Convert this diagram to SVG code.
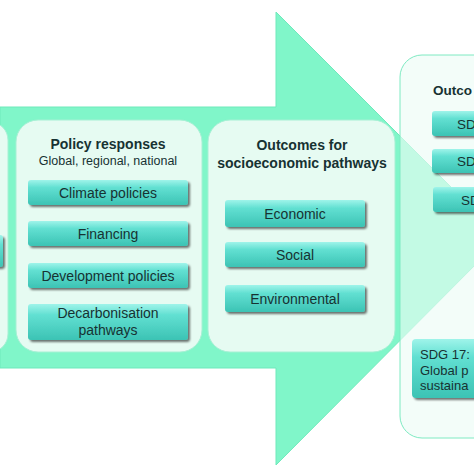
<svg xmlns="http://www.w3.org/2000/svg" width="474" height="474" viewBox="0 0 474 474">
<defs>
<linearGradient id="bx" x1="0" y1="0" x2="0" y2="1">
<stop offset="0" stop-color="#9ff4ea"/>
<stop offset="0.3" stop-color="#62e0d2"/>
<stop offset="1" stop-color="#3cc3b4"/>
</linearGradient>
<filter id="sh" x="-10%" y="-20%" width="125%" height="150%">
<feGaussianBlur in="SourceAlpha" stdDeviation="1.2"/>
<feOffset dx="1.5" dy="2" result="b"/>
<feComponentTransfer><feFuncA type="linear" slope="0.55"/></feComponentTransfer>
<feMerge><feMergeNode/><feMergeNode in="SourceGraphic"/></feMerge>
</filter>
</defs>
<style>
.panel{fill:#e6fbf2;stroke:#a6f0d4;stroke-width:1}
.rpanel{fill:#ecfcf5;fill-opacity:0.62;stroke:#7eeac2;stroke-width:1}
.box{fill:url(#bx);filter:url(#sh)}
.t{font-family:"Liberation Sans",Arial,sans-serif;fill:#173232}
.h{font-weight:bold;font-size:14px;text-anchor:middle}
.s{font-size:12.5px;text-anchor:middle}
.b{font-size:14px;text-anchor:middle}
.l{font-size:13.5px}
.m{font-size:13px}
</style>
<rect width="474" height="474" fill="#ffffff"/>
<g id="connectors">
<polygon id="arrow" points="0,107 276,107 276,12 502,238 276,465 276,368 0,368" fill="#80f6c9" stroke="#6ee9bb" stroke-width="1"/>
</g>
<g id="node-left">
<rect class="panel" x="-30" y="122" width="38" height="230" rx="18"/>
<rect class="box" x="-40" y="235" width="43" height="32" rx="3"/>
</g>
<g id="node-policy">
<rect class="panel" x="16" y="120" width="186" height="232" rx="22"/>
<text class="t h" x="108" y="149">Policy responses</text>
<text class="t s" x="108" y="165">Global, regional, national</text>
<rect class="box" x="28" y="180" width="160" height="25" rx="3"/>
<text class="t b" x="108" y="197.5">Climate policies</text>
<rect class="box" x="28" y="221" width="160" height="25" rx="3"/>
<text class="t b" x="108" y="238.5">Financing</text>
<rect class="box" x="28" y="263" width="160" height="25" rx="3"/>
<text class="t b" x="108" y="280.5">Development policies</text>
<rect class="box" x="28" y="304" width="160" height="36" rx="3"/>
<text class="t b" x="108" y="318">Decarbonisation</text>
<text class="t b" x="108" y="335">pathways</text>
</g>
<g id="node-outcomes">
<rect class="panel" x="208" y="120" width="187" height="232" rx="22"/>
<text class="t h" x="302" y="150">Outcomes for</text>
<text class="t h" x="302" y="168">socioeconomic pathways</text>
<rect class="box" x="225" y="200" width="140" height="27" rx="3"/>
<text class="t b" x="295" y="218.5">Economic</text>
<rect class="box" x="225" y="242" width="140" height="25" rx="3"/>
<text class="t b" x="295" y="259.5">Social</text>
<rect class="box" x="225" y="285" width="140" height="27" rx="3"/>
<text class="t b" x="295" y="303.5">Environmental</text>
</g>
<g id="node-sdg">
<rect class="rpanel" x="400" y="55" width="110" height="383" rx="22"/>
<text class="t l" x="433" y="95" font-weight="bold">Outco</text>
<rect class="box" x="432" y="111" width="60" height="25" rx="3"/>
<text class="t l" x="457" y="128.5">SD</text>
<rect class="box" x="432" y="149" width="60" height="24" rx="3"/>
<text class="t l" x="457" y="166">SD</text>
<rect class="box" x="433" y="187" width="60" height="25" rx="3"/>
<text class="t l" x="461" y="204.5">SD</text>
<rect class="box" x="412" y="339" width="80" height="59" rx="4"/>
<text class="t m" x="420" y="359">SDG 17:</text>
<text class="t m" x="420" y="374.5">Global p</text>
<text class="t m" x="420" y="390">sustaina</text>
</g>
</svg>
